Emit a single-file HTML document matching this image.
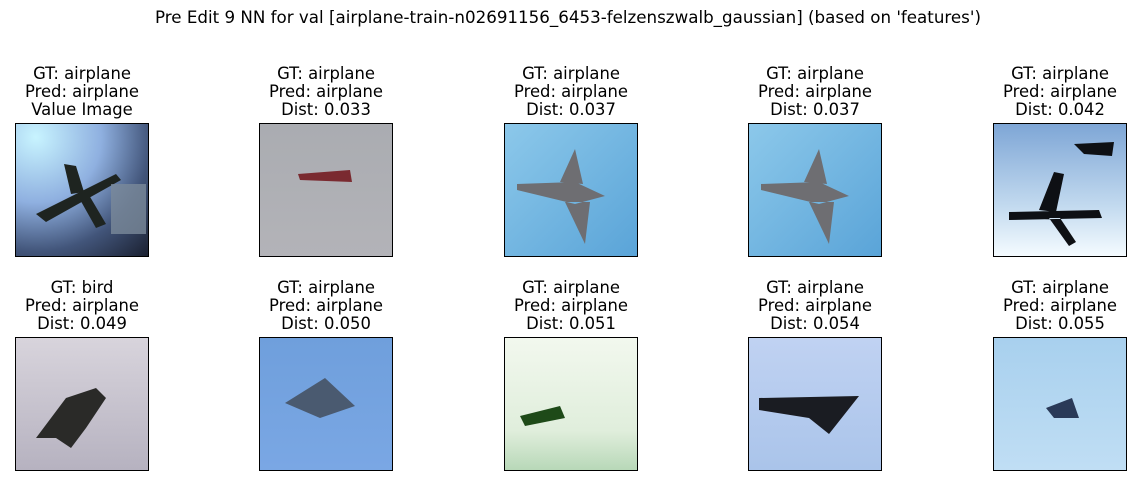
<!DOCTYPE html>
<html><head><meta charset="utf-8"><style>
body{margin:0;background:#fff;width:1136px;height:486px;overflow:hidden;font-family:"DejaVu Sans","Liberation Sans",sans-serif;position:relative}
.t{position:absolute;text-align:center;font-size:16.4px;line-height:18px;color:#000;width:240px}
.img{position:absolute;width:134px;height:134px;border:1px solid #000;box-sizing:border-box;overflow:hidden}
#title{position:absolute;top:7px;left:0;width:1136px;text-align:center;font-size:16.7px}
</style></head><body>
<div id="title">Pre Edit 9 NN for val [airplane-train-n02691156_6453-felzenszwalb_gaussian] (based on 'features')</div>
<div id="root"></div>
<script>
const gts=["airplane","airplane","airplane","airplane","airplane","bird","airplane","airplane","airplane","airplane"];
const preds=["airplane","airplane","airplane","airplane","airplane","airplane","airplane","airplane","airplane","airplane"];
const dists=["Value Image","0.033","0.037","0.037","0.042","0.049","0.050","0.051","0.054","0.055"];
const bgs=[
"radial-gradient(circle at 15% 10%,#c8f4ff 0%,#8fb0e0 40%,#42557a 70%,#1a2030 100%)",
"linear-gradient(#aaacb1,#b3b3b8)",
"linear-gradient(135deg,#8cc8ea,#5aa4d8)",
"linear-gradient(135deg,#8cc8ea,#5aa4d8)",
"linear-gradient(#7ea6d6,#c0d8ee 60%,#f4fbff)",
"linear-gradient(#d8d4dc,#b6b2c0)",
"linear-gradient(#6f9fdc,#7aa7e4)",
"linear-gradient(#f2f8ee,#e0eedc 70%,#b8d8b8)",
"linear-gradient(#c0d2f2,#aac4ea)",
"linear-gradient(#a8d0ee,#c0def4)"];
const planes=[
'<path d="M20 90 L100 50 L105 56 L30 98Z" fill="#1e2420"/><path d="M55 70 L48 40 L60 42 L68 68Z M70 66 L90 100 L80 104 L62 72Z" fill="#1e2420"/><rect x="95" y="60" width="35" height="50" fill="#7a8a9a" opacity=".8"/>',
'<path d="M38 50 L90 46 L92 58 L40 56Z" fill="#7a2a30"/>',
'<path d="M12 60 L70 58 L100 72 L70 80 L12 66Z M55 58 L70 25 L78 60Z M60 78 L80 120 L85 78Z" fill="#6e6e72"/>',
'<path d="M12 60 L70 58 L100 72 L70 80 L12 66Z M55 58 L70 25 L78 60Z M60 78 L80 120 L85 78Z" fill="#6e6e72"/>',
'<path d="M15 88 L105 86 L108 94 L15 96Z M45 86 L60 48 L70 50 L62 88Z M55 94 L75 122 L82 118 L66 94Z M80 20 L120 18 L118 32 L90 30Z" fill="#0e1014"/>',
'<path d="M20 100 L50 60 L80 50 L90 60 L70 90 L55 110 L40 100Z" fill="#2a2a28"/>',
'<path d="M25 65 L65 40 L95 68 L60 80Z" fill="#4a5a70"/>',
'<path d="M15 78 L55 68 L60 80 L20 88Z" fill="#1e4a18"/>',
'<path d="M10 60 L110 58 L80 96 L60 80 L10 72Z" fill="#1a1c22"/>',
'<path d="M52 70 L78 60 L85 80 L60 80Z" fill="#2a3a58"/>'];
const xs=[15,259,504,748,993], ys=[123,337];
const root=document.getElementById('root');
for(let i=0;i<10;i++){
  const c=i%5,r=Math.floor(i/5),x=xs[c],y=ys[r];
  const t=document.createElement('div');t.className='t';
  
  
  t.style.left=(x+67-120)+'px';t.style.top=(y-58)+'px';
  t.innerHTML='GT: '+gts[i]+'<br>Pred: '+preds[i]+'<br>'+(i===0?dists[i]:'Dist: '+dists[i]);
  root.appendChild(t);
  const d=document.createElement('div');d.className='img';
  
  
  d.style.left=x+'px';d.style.top=y+'px';d.style.background=bgs[i];
  d.innerHTML='<svg width="134" height="134" viewBox="0 0 134 134">'+planes[i]+'</svg>';
  root.appendChild(d);
}
</script>
</body></html>
